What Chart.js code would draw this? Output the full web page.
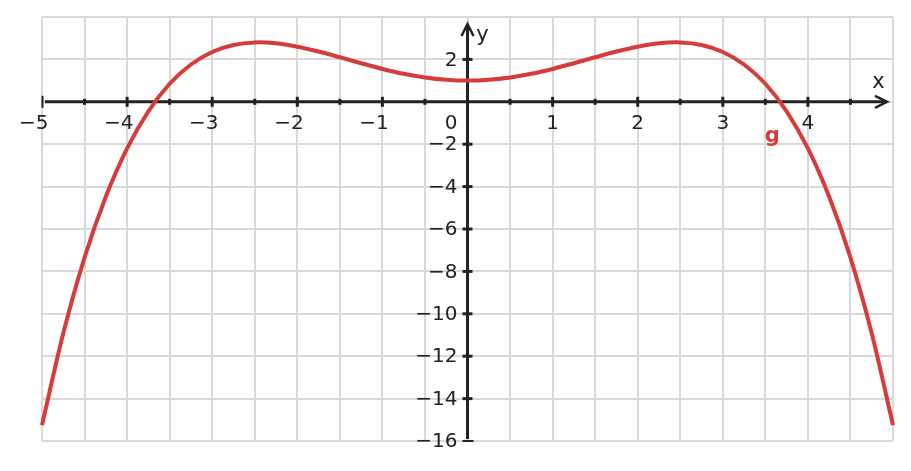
<!DOCTYPE html>
<html>
<head>
<meta charset="utf-8">
<script src="https://cdn.jsdelivr.net/npm/chart.js@4"></script>
<style>
  html, body { margin: 0; padding: 0; background: #fff; }
  #wrap { width: 911px; height: 471px; }
</style>
</head>
<body>
<div id="wrap"><canvas id="plot" width="911" height="471"></canvas></div>
<script>
const xValues = [-5, -4.75, -4.5, -4.25, -4, -3.75, -3.5, -3.25, -3, -2.75, -2.5, -2.25, -2, -1.75, -1.5, -1.25, -1, -0.75, -0.5, -0.25,
  0, 0.25, 0.5, 0.75, 1, 1.25, 1.5, 1.75, 2, 2.25, 2.5, 2.75, 3, 3.25, 3.5, 3.75, 4, 4.25, 4.5, 4.75, 5];
const gValues = [-15.25, -10.92, -7.35, -4.48, -2.2, -0.45, 0.85, 1.76, 2.35, 2.68, 2.8, 2.76, 2.6, 2.37, 2.1, 1.82, 1.55, 1.32, 1.15, 1.04,
  1, 1.04, 1.15, 1.32, 1.55, 1.82, 2.1, 2.37, 2.6, 2.76, 2.8, 2.68, 2.35, 1.76, 0.85, -0.45, -2.2, -4.48, -7.35, -10.92, -15.25];

const xTickLabels = [-5, -4, -3, -2, -1, 1, 2, 3, 4];
const xMinorTicks = [-4.5, -3.5, -2.5, -1.5, -0.5, 0.5, 1.5, 2.5, 3.5, 4.5];
const yTickLabels = [2, -2, -4, -6, -8, -10, -12, -14, -16];

const axisColor = "#222222";
const curveColor = "#d63c3a";
const labelFont = "20px 'DejaVu Sans'";

const axesPlugin = {
  id: "axesThroughOrigin",
  beforeDatasetsDraw(chart) {
    const ctx = chart.ctx;
    const xs = chart.scales.x;
    const ys = chart.scales.y;
    const ox = xs.getPixelForValue(0);
    const oy = ys.getPixelForValue(0);
    const left = xs.getPixelForValue(-5);
    const right = xs.getPixelForValue(5);
    const top = ys.getPixelForValue(4);
    const bottom = ys.getPixelForValue(-16);

    ctx.save();
    ctx.strokeStyle = axisColor;
    ctx.lineWidth = 3;
    ctx.lineCap = "butt";

    // x axis
    ctx.beginPath();
    ctx.moveTo(left + 3, oy);
    ctx.lineTo(right - 6, oy);
    ctx.stroke();
    // left end bar
    ctx.lineWidth = 2;
    ctx.beginPath();
    ctx.moveTo(left + 0.5, oy - 6);
    ctx.lineTo(left + 0.5, oy + 6);
    ctx.stroke();
    // x arrow
    ctx.lineWidth = 2.5;
    ctx.beginPath();
    ctx.moveTo(right - 18, oy - 6);
    ctx.lineTo(right - 6, oy);
    ctx.lineTo(right - 18, oy + 6);
    ctx.stroke();

    // y axis
    ctx.lineWidth = 3;
    ctx.beginPath();
    ctx.moveTo(ox, bottom - 2);
    ctx.lineTo(ox, top + 7);
    ctx.stroke();
    ctx.lineWidth = 2;
    ctx.beginPath();
    ctx.moveTo(ox - 5, bottom);
    ctx.lineTo(ox + 6, bottom);
    ctx.stroke();
    ctx.lineWidth = 2.5;
    ctx.beginPath();
    ctx.moveTo(ox - 6, top + 19);
    ctx.lineTo(ox, top + 7);
    ctx.lineTo(ox + 6, top + 19);
    ctx.stroke();

    // x ticks
    ctx.lineWidth = 3;
    xTickLabels.forEach((v) => {
      if (v === -5) return;
      const px = xs.getPixelForValue(v);
      ctx.beginPath();
      ctx.moveTo(px, oy - 5);
      ctx.lineTo(px, oy + 5);
      ctx.stroke();
    });
    xMinorTicks.forEach((v) => {
      const px = xs.getPixelForValue(v);
      ctx.beginPath();
      ctx.moveTo(px, oy - 3);
      ctx.lineTo(px, oy + 3);
      ctx.stroke();
    });
    // y ticks
    yTickLabels.forEach((v) => {
      if (v === -16) return;
      const py = ys.getPixelForValue(v);
      ctx.beginPath();
      ctx.moveTo(ox - 5, py);
      ctx.lineTo(ox + 5, py);
      ctx.stroke();
    });

    // labels
    ctx.fillStyle = axisColor;
    ctx.font = labelFont;
    ctx.textBaseline = "alphabetic";
    const digitW = ctx.measureText("5").width;
    xTickLabels.forEach((v) => {
      const s = v < 0 ? "\u2212" + Math.abs(v) : String(v);
      const px = xs.getPixelForValue(v);
      const w = ctx.measureText(s).width;
      ctx.textAlign = "left";
      ctx.fillText(s, px - w + digitW / 2, oy + 27);
    });
    ctx.textAlign = "right";
    ctx.fillText("0", ox - 10, oy + 27);
    ctx.textBaseline = "middle";
    yTickLabels.forEach((v) => {
      const s = v < 0 ? "\u2212" + Math.abs(v) : String(v);
      ctx.fillText(s, ox - 10, ys.getPixelForValue(v) + 1);
    });

    // axis names
    ctx.textAlign = "center";
    ctx.font = "21px 'DejaVu Sans'";
    ctx.fillText("x", xs.getPixelForValue(4.83), oy - 19);
    ctx.fillText("y", ox + 15, top + 19);
    ctx.restore();
  },
  afterDatasetsDraw(chart) {
    const ctx = chart.ctx;
    const xs = chart.scales.x;
    const ys = chart.scales.y;
    ctx.save();
    ctx.fillStyle = curveColor;
    ctx.font = "bold 21px 'DejaVu Sans'";
    ctx.textAlign = "center";
    ctx.textBaseline = "middle";
    ctx.fillText("g", xs.getPixelForValue(3.58), ys.getPixelForValue(-1.65));
    ctx.restore();
  }
};

new Chart(document.getElementById("plot"), {
  type: "line",
  data: {
    datasets: [{
      label: "g",
      data: xValues.map((x, i) => ({ x: x, y: gValues[i] })),
      borderColor: curveColor,
      borderWidth: 4,
      pointRadius: 0,
      fill: false,
      tension: 0.3,
      clip: false
    }]
  },
  options: {
    responsive: false,
    animation: false,
    events: [],
    layout: { padding: { left: 42, right: 18, top: 17, bottom: 30 } },
    plugins: { legend: { display: false }, tooltip: { enabled: false } },
    scales: {
      x: {
        type: "linear",
        min: -5,
        max: 5,
        ticks: { display: false, stepSize: 0.5 },
        grid: { color: "#d9d9d9", lineWidth: 2, drawTicks: false },
        border: { display: false }
      },
      y: {
        type: "linear",
        min: -16,
        max: 4,
        ticks: { display: false, stepSize: 2 },
        grid: { color: "#d9d9d9", lineWidth: 2, drawTicks: false },
        border: { display: false }
      }
    }
  },
  plugins: [axesPlugin]
});
</script>
</body>
</html>
